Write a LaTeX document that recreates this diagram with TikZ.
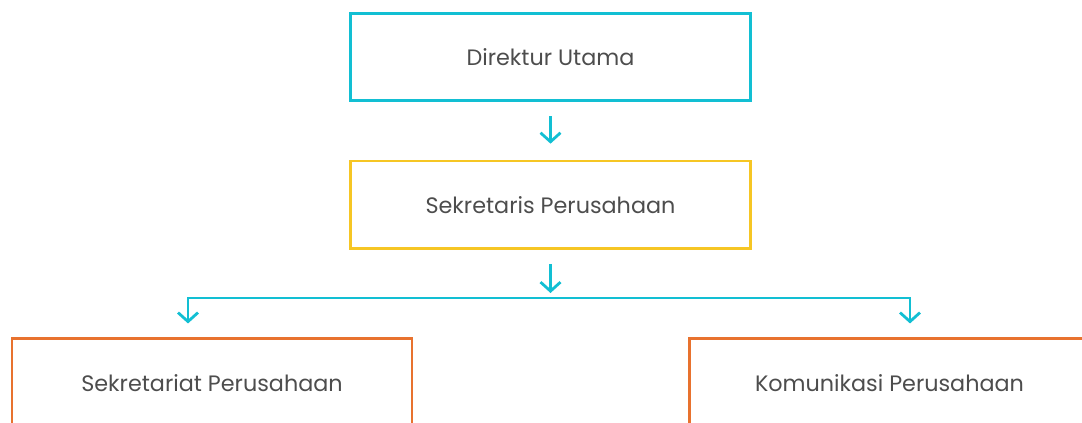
\documentclass[tikz,border=0pt]{standalone}
\usepackage{fontspec}
\setmainfont{Poppins}
\usetikzlibrary{arrows.meta, positioning}
\definecolor{teal}{HTML}{12BFD3}
\definecolor{gold}{HTML}{F6C624}
\definecolor{rust}{HTML}{E8722E}
\definecolor{ink}{HTML}{4D4D4D}

\begin{document}
\begin{tikzpicture}[x=1pt, y=-1pt, font=\fontsize{22.3}{26}\selectfont, >={Straight Barb[length=9pt, width=20pt]},
    box/.style={draw, line width=2.8pt, minimum width=400pt, minimum height=87.5pt, align=center, text=ink, text depth=0pt},
    link/.style={->, teal, line width=2.8pt}]
  \path[use as bounding box, clip] (0,0) rectangle (1082,423);

  \node[box, draw=teal] (dir) at (550.5,57) {Direktur Utama};
  \node[box, draw=gold, below=57.5pt of dir] (sekp) {Sekretaris Perusahaan};

  \node[box, draw=rust, below=87.5pt of sekp, xshift=-338.5pt] (sekt) {Sekretariat Perusahaan};
  \node[box, draw=rust, below=87.5pt of sekp, xshift=339pt] (kom) {Komunikasi Perusahaan};

  \coordinate (bar) at (550.5,298);
  \coordinate (barL) at (188,298);
  \coordinate (barR) at (910,298);

  \draw[link, shorten <=14pt, shorten >=16pt] (dir) -- (sekp);
  \draw[link, shorten <=14pt, shorten >=5pt] (sekp) -- (bar);
  \draw[link, shorten >=14pt] (bar) -| (barL |- sekt.north);
  \draw[link, shorten >=14pt] (bar) -| (barR |- kom.north);
\end{tikzpicture}
\end{document}
